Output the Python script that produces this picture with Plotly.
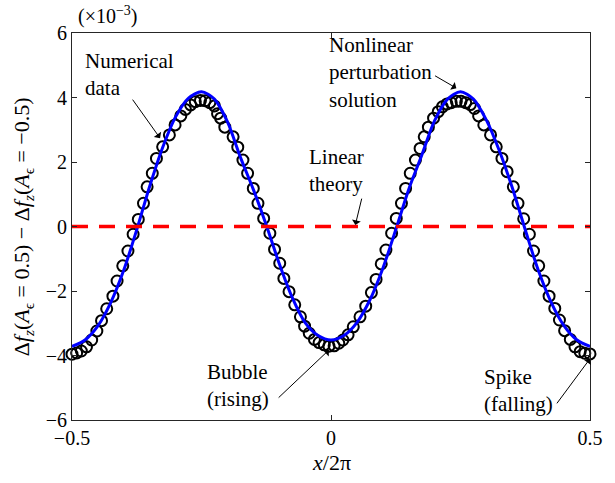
import plotly.graph_objects as go

# Numerical data (open circles)
num_x = [-0.500, -0.491, -0.482, -0.472, -0.462, -0.452, -0.443, -0.433, -0.421, -0.413,
         -0.402, -0.392, -0.382, -0.372, -0.362, -0.355, -0.345, -0.337, -0.325, -0.312,
         -0.301, -0.290, -0.281, -0.271, -0.262, -0.252, -0.243, -0.234, -0.225, -0.219,
         -0.213, -0.205, -0.189, -0.180, -0.170, -0.161, -0.150, -0.141, -0.130, -0.118,
         -0.109, -0.099, -0.091, -0.081, -0.070, -0.059, -0.051, -0.042, -0.032, -0.023,
         -0.013, -0.004, 0.006, 0.015, 0.023, 0.033, 0.043, 0.056, 0.067, 0.078,
         0.087, 0.097, 0.106, 0.117, 0.126, 0.136, 0.144, 0.153, 0.163, 0.172,
         0.180, 0.188, 0.198, 0.207, 0.215, 0.224, 0.232, 0.242, 0.251, 0.260,
         0.269, 0.277, 0.285, 0.295, 0.308, 0.319, 0.330, 0.340, 0.352, 0.361,
         0.372, 0.383, 0.391, 0.401, 0.411, 0.421, 0.432, 0.441, 0.451, 0.462,
         0.471, 0.481, 0.490, 0.500]
num_y = [-3.96, -3.92, -3.86, -3.73, -3.52, -3.24, -2.92, -2.55, -2.16, -1.69,
         -1.22, -0.76, -0.24, 0.22, 0.72, 1.23, 1.65, 2.11, 2.47, 2.84,
         3.15, 3.43, 3.63, 3.77, 3.87, 3.91, 3.90, 3.84, 3.74, 3.50,
         3.36, 3.08, 2.78, 2.46, 2.06, 1.65, 1.18, 0.72, 0.25, -0.21,
         -0.71, -1.14, -1.61, -2.02, -2.43, -2.80, -3.09, -3.31, -3.50, -3.60,
         -3.67, -3.71, -3.70, -3.62, -3.52, -3.36, -3.11, -2.80, -2.47, -2.05,
         -1.64, -1.16, -0.73, -0.21, 0.25, 0.72, 1.18, 1.65, 2.06, 2.42,
         2.78, 3.08, 3.36, 3.56, 3.71, 3.80, 3.84, 3.88, 3.88, 3.84,
         3.78, 3.66, 3.43, 3.15, 2.84, 2.47, 2.11, 1.70, 1.23, 0.72,
         0.24, -0.24, -0.76, -1.22, -1.69, -2.16, -2.54, -2.90, -3.23, -3.50,
         -3.73, -3.88, -3.93, -3.95]

# Nonlinear perturbation solution (blue line)
sol_x = [-0.500, -0.475, -0.450, -0.425, -0.400, -0.375, -0.350, -0.325, -0.300, -0.275,
         -0.250, -0.225, -0.200, -0.175, -0.150, -0.125, -0.100, -0.075, -0.050, -0.025,
         0.000, 0.025, 0.050, 0.075, 0.100, 0.125, 0.150, 0.175, 0.200, 0.225,
         0.250, 0.275, 0.300, 0.325, 0.350, 0.375, 0.400, 0.425, 0.450, 0.475, 0.500]
sol_y = [-3.72, -3.52, -3.08, -2.35, -1.35, -0.10, 1.25, 2.45, 3.40, 3.98,
         4.18, 3.95, 3.25, 2.15, 1.15, 0.05, -1.15, -2.20, -2.98, -3.38,
         -3.52, -3.38, -2.98, -2.28, -1.30, -0.10, 1.15, 2.20, 3.28, 3.95,
         4.18, 3.95, 3.30, 2.35, 1.20, -0.10, -1.35, -2.35, -3.08, -3.52, -3.72]

# Linear theory (red dashed)
lin_x = [-0.5, 0.5]
lin_y = [0.0, 0.0]

x_ticks = [-0.5, 0, 0.5]
x_ticktext = ["\u22120.5", "0", "0.5"]
y_ticks = [-6, -4, -2, 0, 2, 4, 6]
y_ticktext = ["\u22126", "\u22124", "\u22122", "0", "2", "4", "6"]

FONT = "Liberation Serif"
AX = "#262626"

fig = go.Figure()
fig.add_trace(go.Scatter(x=num_x, y=num_y, mode="markers",
                         marker=dict(symbol="circle-open", size=11, color="black",
                                     line=dict(width=2, color="black")),
                         cliponaxis=False, showlegend=False))
fig.add_trace(go.Scatter(x=sol_x, y=sol_y, mode="lines",
                         line=dict(color="#0000ff", width=3, shape="spline", smoothing=0.8),
                         showlegend=False))
fig.add_trace(go.Scatter(x=lin_x, y=lin_y, mode="lines",
                         line=dict(color="#ff0000", width=3.5, dash="16px,11px"),
                         showlegend=False))

axis_common = dict(showgrid=False, zeroline=False, showline=True, linecolor=AX, linewidth=1,
                   mirror="ticks", ticks="inside", ticklen=5, tickwidth=1, tickcolor=AX,
                   tickfont=dict(family=FONT, size=20, color="black"))

fig.update_layout(
    width=615, height=483,
    margin=dict(l=72, r=13, t=33, b=63),
    paper_bgcolor="white", plot_bgcolor="white",
    xaxis=dict(range=[-0.5, 0.5], tickvals=x_ticks, ticktext=x_ticktext, **axis_common),
    yaxis=dict(range=[-6, 6], tickvals=y_ticks, ticktext=y_ticktext, **axis_common),
    font=dict(family=FONT, color="black"),
)

anns = []
# axis titles
anns.append(dict(text="<i>x</i>/2\u03c0", xref="paper", yref="paper", x=0.5, y=-0.111,
                 xanchor="center", yanchor="middle", showarrow=False,
                 font=dict(family=FONT, size=22)))
anns.append(dict(text="\u0394<i>f</i><sub><i>z</i></sub>(<i>A</i><sub>\u03f5</sub> = 0.5) \u2212 \u0394<i>f</i><sub><i>z</i></sub>(<i>A</i><sub>\u03f5</sub> = \u22120.5)",
                 xref="paper", yref="paper", x=-0.095, y=0.5, textangle=-90,
                 xanchor="center", yanchor="middle", showarrow=False,
                 font=dict(family=FONT, size=22)))
anns.append(dict(text="(\u00d710<sup>\u22123</sup>)", xref="paper", yref="paper",
                 x=0.008, y=1.045, xanchor="left", yanchor="middle", showarrow=False,
                 font=dict(family=FONT, size=20)))

# text labels
labels = [
    ("Numerical<br>data", -0.479, 4.72),
    ("Nonlinear<br>perturbation<br>solution", -0.008, 4.76),
    ("Linear<br>theory", -0.046, 1.75),
    ("Bubble<br>(rising)", -0.244, -4.93),
    ("Spike<br>(falling)", 0.292, -5.07),
]
for t, x, y in labels:
    anns.append(dict(text=t, x=x, y=y, xref="x", yref="y", xanchor="left", yanchor="middle",
                     align="left", showarrow=False, font=dict(family=FONT, size=21)))

# arrows (tail -> head)
arrows = [
    ((-0.385, 3.98), (-0.330, 2.74)),
    ((0.198, 4.70), (0.242, 4.29)),
    ((0.060, 0.91), (0.047, 0.05)),
    ((-0.104, -5.35), (-0.004, -3.83)),
    ((0.434, -5.53), (0.500, -4.10)),
]
for (tx, ty), (hx, hy) in arrows:
    anns.append(dict(text="", x=hx, y=hy, ax=tx, ay=ty, xref="x", yref="y",
                     axref="x", ayref="y", showarrow=True, arrowhead=1, arrowsize=1.5,
                     arrowwidth=1, arrowcolor="black", standoff=0, startstandoff=0))
fig.update_layout(annotations=anns)

fig.write_html("out.html")
